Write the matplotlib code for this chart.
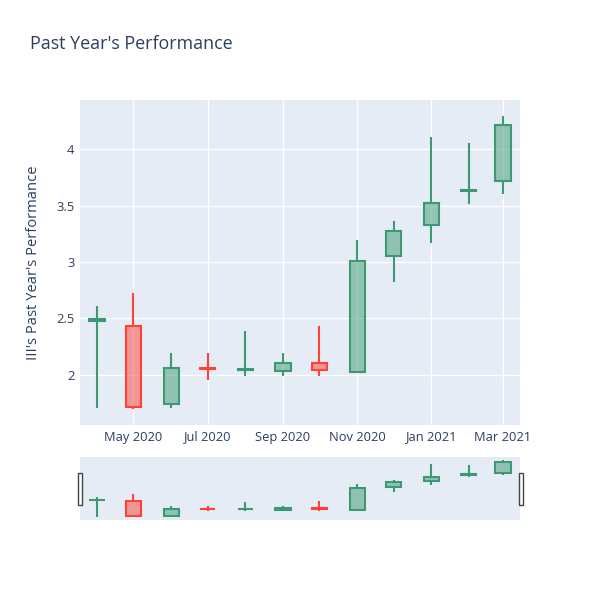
import pandas as pd
import matplotlib
matplotlib.use("Agg")
import matplotlib.pyplot as plt
import matplotlib.dates as mdates
from matplotlib.patches import Rectangle

plt.rcParams["font.family"] = ["Open Sans", "DejaVu Sans"]

dates = pd.to_datetime([
    "2020-04-01", "2020-05-01", "2020-06-01", "2020-07-01", "2020-08-01", "2020-09-01",
    "2020-10-01", "2020-11-01", "2020-12-01", "2021-01-01", "2021-02-01", "2021-03-01",
])
opens = [2.48, 2.436, 1.743, 2.058, 2.046, 2.035, 2.106, 2.03, 3.056, 3.327, 3.625, 3.72]
highs = [2.613, 2.728, 2.19, 2.19, 2.387, 2.19, 2.434, 3.195, 3.363, 4.109, 4.05, 4.292]
lows = [1.705, 1.70, 1.705, 1.956, 1.99, 1.99, 1.99, 2.015, 2.826, 3.171, 3.511, 3.60]
closes = [2.492, 1.72, 2.065, 2.05, 2.054, 2.106, 2.044, 3.012, 3.274, 3.525, 3.636, 4.212]

title = "Past Year's Performance"
ylabel = "III's Past Year's Performance"

inc_color = "#3D9970"
dec_color = "#FF4136"
bg = "#E5ECF6"
text_color = "#2a3f5f"

fig = plt.figure(figsize=(6, 6), dpi=100)
ax = fig.add_axes([80 / 600, 1 - 425 / 600, 440 / 600, 325 / 600])
ax_rs = fig.add_axes([80 / 600, 1 - 520 / 600, 440 / 600, 63 / 600])

xlim = (mdates.date2num(pd.Timestamp("2020-03-18")), mdates.date2num(pd.Timestamp("2021-03-15")))
ylim = (1.557, 4.434)
body_w = 12.4


def draw_candles(a, lw):
    for d, o, h, l, c in zip(dates, opens, highs, lows, closes):
        x = mdates.date2num(d)
        col = inc_color if c > o else dec_color
        lo, hi = min(o, c), max(o, c)
        a.plot([x, x], [l, lo], color=col, lw=lw, solid_capstyle="butt", zorder=3)
        a.plot([x, x], [hi, h], color=col, lw=lw, solid_capstyle="butt", zorder=3)
        a.add_patch(Rectangle((x - body_w / 2, lo), body_w, hi - lo,
                              facecolor=matplotlib.colors.to_rgba(col, 0.5),
                              edgecolor=col, lw=lw, zorder=4))


draw_candles(ax, 1.5)
ax.set_facecolor(bg)
ax.set_xlim(*xlim)
ax.set_ylim(*ylim)
ax.set_yticks([2, 2.5, 3, 3.5, 4])
ax.set_yticklabels(["2", "2.5", "3", "3.5", "4"])
ax.xaxis.set_major_locator(mdates.MonthLocator(bymonth=[1, 3, 5, 7, 9, 11]))
ax.xaxis.set_major_formatter(mdates.DateFormatter("%b %Y"))
ax.grid(True, color="white", lw=1)
ax.set_axisbelow(True)
ax.tick_params(length=0, labelsize=9.3, colors=text_color, pad=4)
for s in ax.spines.values():
    s.set_visible(False)
ax.set_ylabel(ylabel, fontsize=10.6, color=text_color, labelpad=11)

draw_candles(ax_rs, 1.5)
ax_rs.set_facecolor(bg)
ax_rs.set_xlim(*xlim)
ax_rs.set_ylim(*ylim)
ax_rs.set_xticks([])
ax_rs.set_yticks([])
for s in ax_rs.spines.values():
    s.set_visible(False)

# range slider grabbers
for x0 in (77.5, 518.5):
    fig.patches.append(Rectangle((x0 / 600, 1 - 505 / 600), 4 / 600, 32 / 600,
                                 transform=fig.transFigure, facecolor="white",
                                 edgecolor="#444444", lw=1, zorder=10))

fig.text(30 / 600, 1 - 44 / 600, title, fontsize=12.9, color=text_color, va="center", ha="left")

fig.savefig("out.png", dpi=100, facecolor="white")
